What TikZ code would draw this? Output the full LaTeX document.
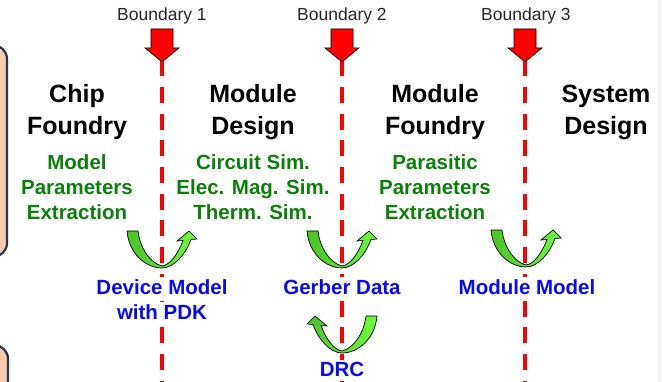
\documentclass[tikz,border=0pt]{standalone}
\usepackage{fontspec}
\setmainfont{Liberation Sans}
\definecolor{peach}{RGB}{248,203,173}
\definecolor{boxline}{RGB}{32,56,84}
\definecolor{dgreen}{RGB}{10,128,10}
\definecolor{tblue}{RGB}{10,10,240}
\definecolor{armlight}{RGB}{110,250,60}
\definecolor{armdark}{RGB}{75,195,40}
\tikzset{
  bnd/.style={font=\fontsize{17.5}{20}\selectfont, text=black!85, inner sep=0pt, anchor=base},
  headtxt/.style={font=\fontsize{25}{30}\selectfont\bfseries, inner sep=0pt, anchor=base},
  gtxt/.style={font=\fontsize{20.5}{24}\selectfont\bfseries, text=dgreen, inner sep=0pt, anchor=base},
  btxt/.style={font=\fontsize{20.5}{24}\selectfont\bfseries, text=tblue, anchor=base, fill=white, inner sep=3pt},
  bline/.style={red, line width=3.5pt, dash pattern=on 16pt off 10.7pt},
  sidebox/.style={fill=peach, draw=boxline, line width=2.2pt, rounded corners=14pt},
  redarr/.pic={\path[fill=red, draw=black, line width=0.6pt]
      (-11,-33) -- (11,-33) -- (11,-14) -- (17,-14) -- (0,0) -- (-17,-14) -- (-11,-14) -- cycle;},
  uarrow/.pic={\path[draw=black, line width=0.7pt, left color=armdark, right color=armlight]
      (-35,-37) .. controls (-33,-14) and (-16,0) .. (0,0)
      .. controls (12,0) and (24,-14) .. (29,-28.5)
      -- (35,-29) -- (27,-37) -- (15,-27) -- (21,-27.5)
      .. controls (16,-14) and (8,-3) .. (0,-2)
      .. controls (-12,-5) and (-22,-20) .. (-24,-37) -- cycle;}
}
\begin{document}
\begin{tikzpicture}[x=1pt,y=-1pt]
\useasboundingbox (0,0) rectangle (662,382);
\fill[black!4] (657,0) rectangle (662,382);
% side boxes
\draw[sidebox] (-40,45) rectangle (7,257);
\draw[sidebox] (-40,345) rectangle (8,420);
% boundary lines
\coordinate (t1) at (162,60.3); \coordinate (e1) at (162,382);
\coordinate (t2) at (342,60.3); \coordinate (e2) at (342,382);
\coordinate (t3) at (525,60.3); \coordinate (e3) at (525,382);
\draw[bline] (t1) -- (e1);
\draw[bline] (t2) -- (e2);
\draw[bline] (t3) -- (e3);
\pic (r1) at (162,62) {redarr};
\pic (r2) at (342,62) {redarr};
\pic (r3) at (525,62) {redarr};
% labels
\node[bnd] (lb1) at (162,21) {Boundary 1};
\node[bnd] (lb2) at (342,21) {Boundary 2};
\node[bnd] (lb3) at (526,21) {Boundary 3};
% headings
\node[headtxt] (h1a) at (77,103) {Chip};
\node[headtxt] (h1b) at (77,135) {Foundry};
\node[headtxt] (h2a) at (253,103) {Module};
\node[headtxt] (h2b) at (253,135) {Design};
\node[headtxt] (h3a) at (435,103) {Module};
\node[headtxt] (h3b) at (435,135) {Foundry};
\node[headtxt] (h4a) at (606,103) {System};
\node[headtxt] (h4b) at (606,135) {Design};
% green
\node[gtxt] (g1a) at (77,170) {Model};
\node[gtxt] (g1b) at (77,195) {Parameters};
\node[gtxt] (g1c) at (77,220) {Extraction};
\node[gtxt] (g2a) at (253,170) {Circuit Sim.};
\node[gtxt] (g2b) at (253,195) {Elec. Mag. Sim.};
\node[gtxt] (g2c) at (253,220) {Therm. Sim.};
\node[gtxt] (g3a) at (435,170) {Parasitic};
\node[gtxt] (g3b) at (435,195) {Parameters};
\node[gtxt] (g3c) at (435,220) {Extraction};
% green arrows
\pic (u1) at (162,268) {uarrow};
\pic (u2) at (342,268) {uarrow};
\pic (u3) at (526,267) {uarrow};
\pic[xscale=-1] (u4) at (342,353) {uarrow};
% blue
\node[btxt] (d1a) at (162,295) {Device Model};
\node[btxt] (d1b) at (162,320) {with PDK};
\node[btxt] (d2) at (342,295) {Gerber Data};
\node[btxt] (d3) at (527,295) {Module Model};
\node[btxt] (d4) at (342,377) {DRC};
\end{tikzpicture}
\end{document}
